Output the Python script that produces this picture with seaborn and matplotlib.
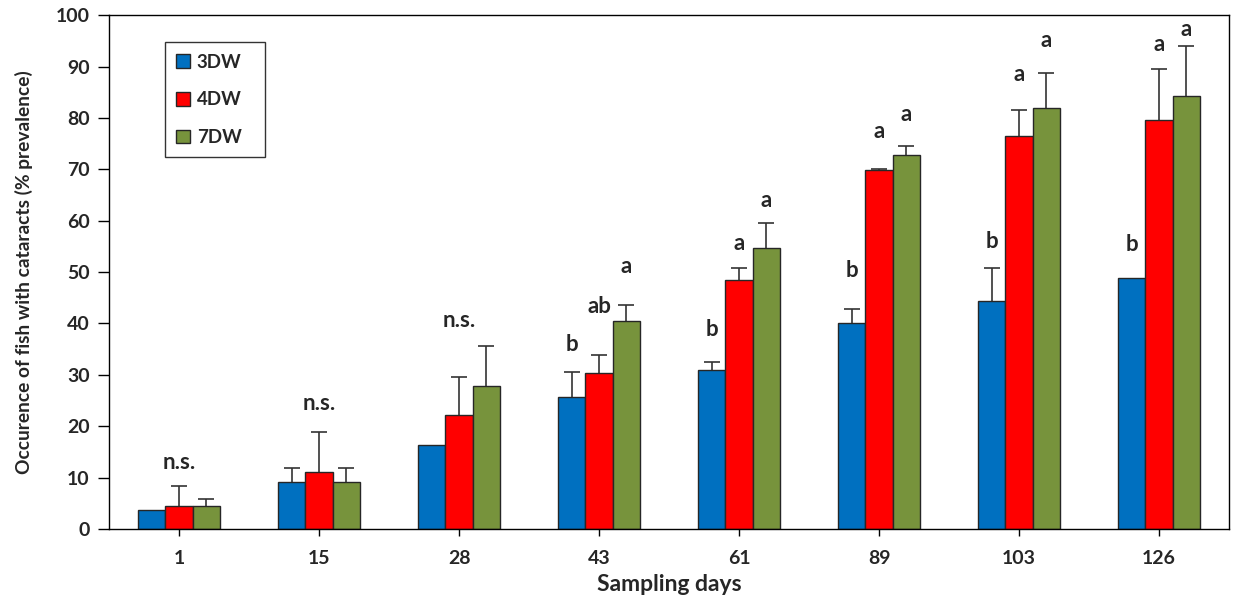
import matplotlib
matplotlib.use("Agg")
import matplotlib.pyplot as plt
import seaborn as sns
import pandas as pd
import numpy as np

# ----------------------------
# DATA
# ----------------------------
days = ["1", "15", "28", "43", "61", "89", "103", "126"]
groups = ["3DW", "4DW", "7DW"]

mean_3dw = [3.7, 9.2, 16.4, 25.6, 31.0, 40.0, 44.4, 48.9]
mean_4dw = [4.5, 11.0, 22.1, 30.3, 48.5, 69.8, 76.4, 79.7]
mean_7dw = [4.5, 9.2, 27.8, 40.4, 54.6, 72.7, 81.9, 84.2]

# upper error (SD) - only drawn upwards
err_3dw = [0.0, 2.6, 0.0, 5.0, 1.4, 2.9, 6.3, 0.0]
err_4dw = [3.9, 7.9, 7.4, 3.5, 2.2, 0.3, 5.1, 9.8]
err_7dw = [1.3, 2.6, 7.9, 3.1, 5.0, 1.8, 6.8, 9.8]

# group-level "n.s." labels: (day index, y)
ns_days = [0, 1, 2]
ns_y = [13.0, 24.5, 40.5]

# per-bar significance letters
letters_3dw = ["", "", "", "b", "b", "b", "b", "b"]
letters_4dw = ["", "", "", "ab", "a", "a", "a", "a"]
letters_7dw = ["", "", "", "a", "a", "a", "a", "a"]
letter_y_3dw = [0, 0, 0, 35.8, 38.9, 50.4, 56.0, 55.4]
letter_y_4dw = [0, 0, 0, 43.2, 55.6, 77.3, 88.5, 94.3]
letter_y_7dw = [0, 0, 0, 51.0, 64.0, 80.6, 95.1, 97.3]

colors = ["#0070C0", "#FF0000", "#77933C"]

df = pd.DataFrame({
    "day": days * 3,
    "group": np.repeat(groups, len(days)),
    "value": mean_3dw + mean_4dw + mean_7dw,
})

errs = [err_3dw, err_4dw, err_7dw]
letters = [letters_3dw, letters_4dw, letters_7dw]
letter_ys = [letter_y_3dw, letter_y_4dw, letter_y_7dw]

# ----------------------------
# PLOT
# ----------------------------
sns.set_style("white")
plt.rcParams["font.family"] = ["Lato", "DejaVu Sans"]
plt.rcParams["font.weight"] = "bold"

fig, ax = plt.subplots(figsize=(12.39, 6.10), dpi=100)
fig.subplots_adjust(left=0.088, right=0.992, bottom=0.133, top=0.975)

sns.barplot(data=df, x="day", y="value", hue="group", order=days,
            hue_order=groups, palette=colors, width=0.585,
            edgecolor="#262626", linewidth=1.0, saturation=1,
            errorbar=None, ax=ax)

for cont, err, labs, lys in zip(ax.containers, errs, letters, letter_ys):
    xs = np.array([p.get_x() + p.get_width() / 2 for p in cont.patches])
    hs = np.array([p.get_height() for p in cont.patches])
    err = np.array(err)
    m = err > 0
    eb = ax.errorbar(xs[m], hs[m], yerr=[np.zeros(m.sum()), err[m]],
                     fmt="none", ecolor="#333333", elinewidth=1.2,
                     capsize=6, capthick=1.2, zorder=0.5)
    # hide the lower caps (sit on the bar tops)
    eb[1][0].set_visible(False)
    for x, lab, ly in zip(xs, labs, lys):
        if lab:
            ax.text(x, ly, lab, ha="center", va="center", fontsize=16,
                    fontweight="bold")

for i, y in zip(ns_days, ns_y):
    ax.text(i, y, "n.s.", ha="center", va="center", fontsize=16,
            fontweight="bold")

ax.set_xlim(-0.5, len(days) - 0.5)
ax.set_ylim(0, 100)
ax.set_yticks(np.arange(0, 101, 10))

for s in ax.spines.values():
    s.set_visible(True)
    s.set_color("black")
    s.set_linewidth(1.0)

ax.tick_params(axis="y", direction="out", length=8, width=1, color="black",
               labelsize=14, pad=6, left=True)
ax.tick_params(axis="x", direction="out", length=5, width=1, color="black",
               labelsize=14, pad=10, bottom=True)
for t in ax.get_xticklabels() + ax.get_yticklabels():
    t.set_fontweight("bold")

ax.set_xlabel("Sampling days", fontsize=16.5, fontweight="bold")
ax.set_ylabel("Occurence of fish with cataracts (% prevalence)",
              fontsize=13.8, fontweight="bold")
ax.xaxis.set_label_coords(0.5, -0.087)
ax.yaxis.set_label_coords(-0.068, 0.5)

leg = ax.legend(loc="upper left", bbox_to_anchor=(0.05, 0.947, 0.089, 0.0),
                mode="expand", frameon=True, fancybox=False,
                edgecolor="black", fontsize=13.5, handlelength=0.75,
                handleheight=0.75, handletextpad=0.35, labelspacing=1.1,
                borderpad=0.6, borderaxespad=0)
leg.get_frame().set_linewidth(1.0)
for t in leg.get_texts():
    t.set_fontweight("bold")

fig.savefig("out.png", dpi=100)
